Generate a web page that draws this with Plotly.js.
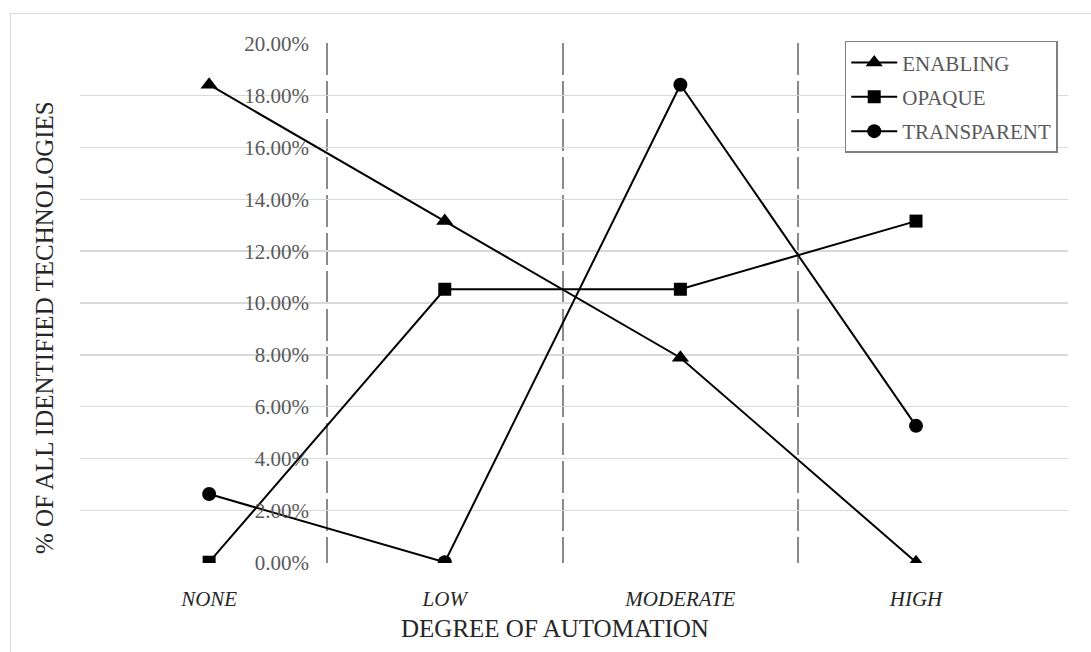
<!DOCTYPE html>
<html>
<head>
<meta charset="utf-8">
<script src="https://cdn.plot.ly/plotly-3.0.1.min.js"></script>
<style>
  html, body { margin: 0; padding: 0; background: #fff; }
  #wrap { position: relative; width: 1091px; height: 652px; overflow: hidden; }
  #frame { position: absolute; left: 10px; top: 13px; width: 1200px; height: 800px;
           border-top: 1.5px solid #d9d9d9; border-left: 1.5px solid #d9d9d9; box-sizing: border-box; pointer-events: none; }
  #chart { position: absolute; left: 0; top: 0; width: 1091px; height: 652px; }
</style>
</head>
<body>
<div id="wrap">
  <div id="frame"></div>
  <div id="chart"></div>
</div>
<script>
// ---- data ----
const categories = ["NONE", "LOW", "MODERATE", "HIGH"];
const enabling    = [0.1842, 0.1316, 0.0789, 0.0000];
const opaque      = [0.0000, 0.1053, 0.1053, 0.1316];
const transparent = [0.0263, 0.0000, 0.1842, 0.0526];
const seriesNames = ["ENABLING", "OPAQUE", "TRANSPARENT"];
const boundaries  = [0.5, 1.5, 2.5];
const yTicks      = [0, 0.02, 0.04, 0.06, 0.08, 0.10, 0.12, 0.14, 0.16, 0.18, 0.20];

const xIdx = categories.map((c, i) => i);
const serif = "Liberation Serif, Times New Roman, serif";

function tr(name, y, symbol, size) {
  return {
    type: "scatter", mode: "lines+markers", name: name, legendgroup: name,
    x: xIdx, y: y,
    line: { color: "#000000", width: 2 },
    marker: { color: "#000000", symbol: symbol, size: size },
    hoverinfo: "skip"
  };
}

const data = [
  tr(seriesNames[0], enabling, "triangle-up", 15),
  tr(seriesNames[1], opaque, "square", 13),
  tr(seriesNames[2], transparent, "circle", 14)
];

const layout = {
  width: 1091, height: 652,
  margin: { l: 80, r: 23, t: 43, b: 89 },
  paper_bgcolor: "rgba(0,0,0,0)",
  plot_bgcolor: "rgba(0,0,0,0)",
  showlegend: true,
  font: { family: serif, color: "#595959" },
  xaxis: {
    type: "linear",
    range: [-0.548, 3.645],
    tickmode: "array", tickvals: xIdx, ticktext: categories,
    showgrid: false, zeroline: false, showline: false,
    ticks: "", ticklabelstandoff: 21,
    tickfont: { family: serif, size: 21, color: "#262626", style: "italic" },
    minor: {
      tickmode: "array", tickvals: boundaries, ticks: "",
      showgrid: true, gridcolor: "#8a8a8a", gridwidth: 2, griddash: "32px,6px"
    }
  },
  yaxis: {
    range: [-0.0003, 0.2003],
    tickmode: "array", tickvals: yTicks, tickformat: ".2%",
    anchor: "free", position: 0.25,
    showgrid: true, gridcolor: "#d9d9d9", gridwidth: 1.5,
    zeroline: false, showline: false, ticks: "", ticklabelstandoff: 18,
    tickfont: { family: serif, size: 21, color: "#595959" }
  },
  legend: {
    x: 0.774, y: 1.004, xanchor: "left", yanchor: "top",
    bgcolor: "#ffffff", bordercolor: "#808080", borderwidth: 1.5,
    font: { family: serif, size: 21, color: "#595959" },
    tracegroupgap: 4, itemwidth: 46
  },
  annotations: [
    { text: "% OF ALL IDENTIFIED TECHNOLOGIES", xref: "paper", yref: "paper",
      x: -0.0354, y: 0.452, xanchor: "center", yanchor: "middle", textangle: -90,
      showarrow: false, font: { family: serif, size: 25, color: "#262626" } },
    { text: "DEGREE OF AUTOMATION", xref: "paper", yref: "paper",
      x: 0.4808, y: -0.125, xanchor: "center", yanchor: "middle",
      showarrow: false, font: { family: serif, size: 25, color: "#262626" } }
  ]
};

Plotly.newPlot("chart", data, layout, { displayModeBar: false, staticPlot: true });
</script>
</body>
</html>
